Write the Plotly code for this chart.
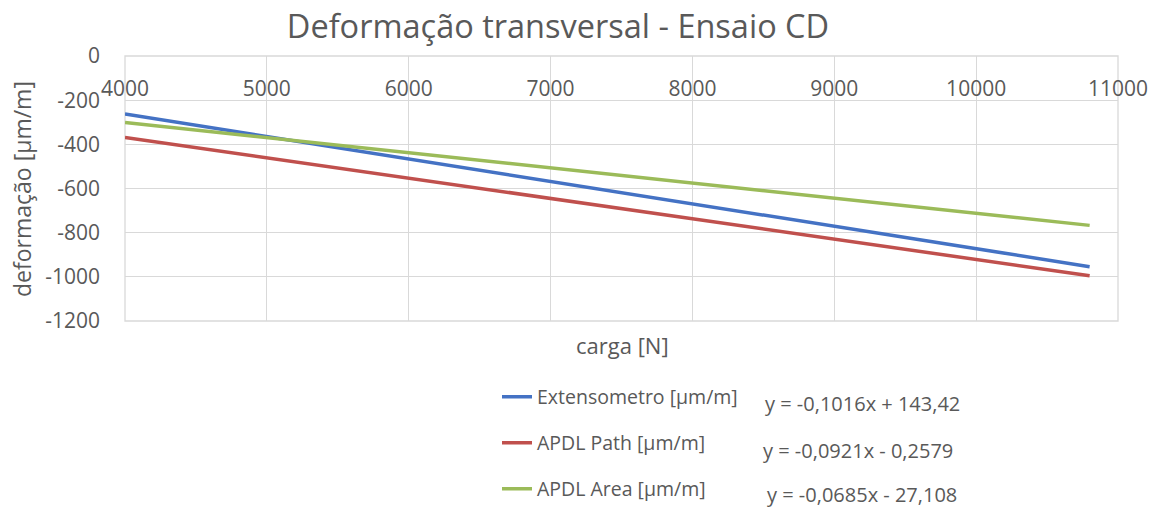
import plotly.graph_objects as go

# Load (N) at the first and last measurement
carga = [4000, 10800]

# Transverse strain (µm/m) for each series
extensometro = [-263, -954]
apdl_path = [-369, -995]
apdl_area = [-301, -767]

series_names = ["Extensometro [µm/m]", "APDL Path [µm/m]", "APDL Area [µm/m]"]
equations = ["y = -0,1016x + 143,42", "y = -0,0921x - 0,2579", "y = -0,0685x - 27,108"]
colors = ["#4472C4", "#C0504D", "#9BBB59"]

x_ticks = [4000, 5000, 6000, 7000, 8000, 9000, 10000, 11000]
y_ticks = [0, -200, -400, -600, -800, -1000, -1200]

W, H = 1161, 507
L, R, T, B = 125, 43, 56, 186
PW, PH = W - L - R, H - T - B
FONT = "Open Sans"
TXT = "#595959"
GRID = "#D9D9D9"


def px(xp):
    return (xp - L) / PW


def py(yp):
    return (H - B - yp) / PH


fig = go.Figure()
legends = ["legend", "legend2", "legend3"]
for name, vals, col, lg in zip(series_names, [extensometro, apdl_path, apdl_area], colors, legends):
    fig.add_trace(go.Scatter(
        x=carga, y=vals, mode="lines", name=name,
        line=dict(color=col, width=3.5), legend=lg, showlegend=True,
    ))

# one legend row per series, trend-line equation to its right
row_y = [397, 443, 489]
eq_x = [862, 858, 862]
eq_y = [403, 450, 494]
layout_legends = {}
for lg, ry in zip(legends, row_y):
    layout_legends[lg] = dict(
        x=px(497), xanchor="left", y=py(ry), yanchor="middle",
        font=dict(family=FONT, size=19.5, color=TXT), bgcolor="rgba(0,0,0,0)",
    )

annotations = [
    dict(text="carga [N]", x=px(622), y=py(345), xref="paper", yref="paper",
         xanchor="center", yanchor="middle",
         showarrow=False, font=dict(family=FONT, size=22, color=TXT)),
    dict(text="deformação [µm/m]", x=px(22), y=py(189), xref="paper", yref="paper",
         xanchor="center", yanchor="middle", textangle=-90,
         showarrow=False, font=dict(family=FONT, size=23, color=TXT)),
]
for eq, ex, ey in zip(equations, eq_x, eq_y):
    annotations.append(dict(text=eq, x=px(ex), y=py(ey), xref="paper", yref="paper",
                            xanchor="center", yanchor="middle", showarrow=False,
                            font=dict(family=FONT, size=20, color=TXT)))

fig.update_layout(
    width=W, height=H,
    margin=dict(l=L, r=R, t=T, b=B, autoexpand=False),
    paper_bgcolor="white", plot_bgcolor="white",
    showlegend=True,
    title=dict(text="Deformação transversal - Ensaio CD", x=558 / W, xanchor="center",
               y=1 - 27 / H, yanchor="middle",
               font=dict(family=FONT, size=32.5, color=TXT)),
    annotations=annotations,
    # frame of the plotting area (edge gridlines)
    shapes=[dict(type="rect", xref="paper", yref="paper", x0=0, x1=1, y0=0, y1=1,
                 line=dict(color=GRID, width=1.3), layer="below")],
    **layout_legends,
)

fig.update_xaxes(
    range=[4000, 11000], tickvals=x_ticks, ticktext=[str(v) for v in x_ticks],
    showgrid=True, gridcolor=GRID, gridwidth=1.3,
    anchor="free", position=1, side="bottom",
    ticks="", ticklabelstandoff=18, tickangle=0,
    tickfont=dict(family=FONT, size=21, color=TXT),
    zeroline=False, showline=False,
)
fig.update_yaxes(
    range=[-1200, 0], tickvals=y_ticks, ticktext=[str(v) for v in y_ticks],
    showgrid=True, gridcolor=GRID, gridwidth=1.3,
    ticks="", ticklabelstandoff=24,
    tickfont=dict(family=FONT, size=21, color=TXT),
    zeroline=False, showline=False,
)

fig.write_html("out.html")
